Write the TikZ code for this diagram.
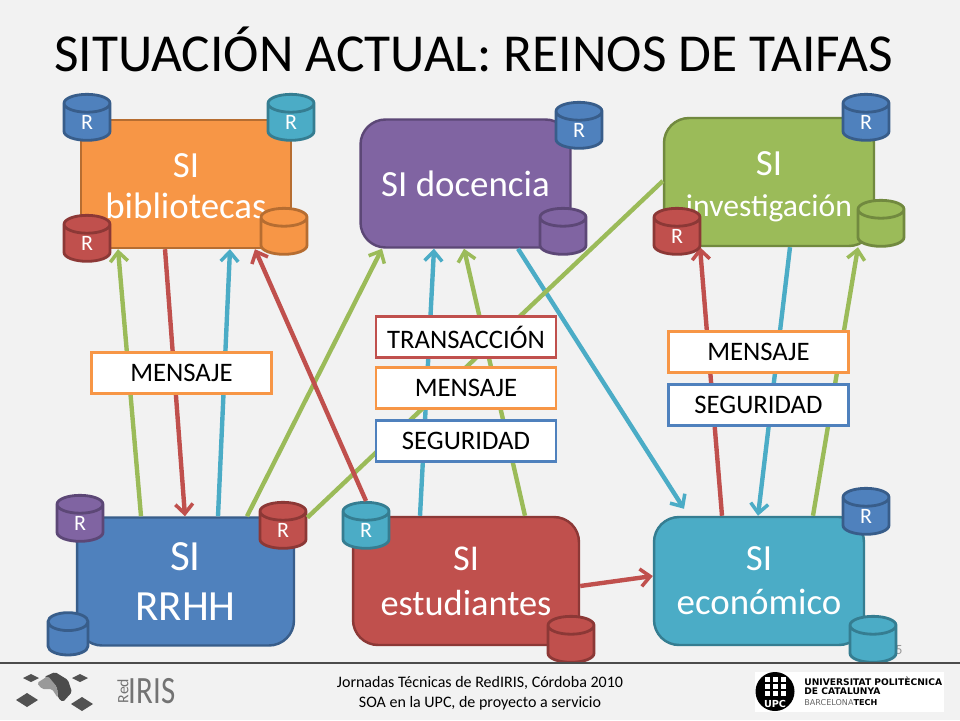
\documentclass[tikz,border=0pt]{standalone}
\usepackage{fontspec}
\setmainfont{Carlito}
\newfontfamily\logofont{DejaVu Sans}
\usetikzlibrary{arrows.meta,shapes.geometric}

\definecolor{pageBg}{HTML}{F2F2F2}
\definecolor{blueFill}{HTML}{4F81BD}
\definecolor{blueLine}{HTML}{385D8A}
\definecolor{redFill}{HTML}{C0504D}
\definecolor{redLine}{HTML}{8C3836}
\definecolor{greenFill}{HTML}{9BBB59}
\definecolor{greenLine}{HTML}{71893F}
\definecolor{purpleFill}{HTML}{8064A2}
\definecolor{purpleLine}{HTML}{5C4776}
\definecolor{tealFill}{HTML}{4BACC6}
\definecolor{tealLine}{HTML}{357D91}
\definecolor{orangeFill}{HTML}{F79646}
\definecolor{orangeLine}{HTML}{B66D31}

\tikzset{
  paint/.style={fill=#1Fill,draw=#1Line},
  sibox/.style={paint=#1,line width=1.4pt,rounded corners=0.5cm,minimum width=4.2cm,minimum height=2.56cm,
    text=white,align=center,inner sep=0pt,font=\fontsize{21}{23}\selectfont},
  rdb/.style={paint=#1,shape=cylinder,shape border rotate=90,aspect=1.5,line width=1.6pt,
    minimum width=0.92cm,minimum height=0.92cm,inner sep=0pt,text=white,font=\fontsize{12.5}{14}\selectfont},
  flow/.style={draw=#1Fill,line width=2.5pt,-{Straight Barb[length=5.5pt,width=10pt,line width=2pt]}},
  tag/.style={draw=#1Fill,fill=white,line width=1.4pt,minimum width=3.6cm,minimum height=0.82cm,inner sep=0pt,
    font=\fontsize{15.2}{17}\selectfont},
}

\begin{document}
\begin{tikzpicture}[x=0.02cm,y=-0.02cm]

\useasboundingbox[fill=pageBg] (0,0) rectangle (960,720);

\node (title) at (473.5,49) {\fontsize{30.4}{32}\selectfont SITUACIÓN ACTUAL: REINOS DE TAIFAS};
\node[text=black!40,font=\fontsize{8}{9}\selectfont] (num) at (899,650) {5};

% systems
\node[sibox=orange,sharp corners] (bib) at (186,184) {\rule{0pt}{16pt}SI\\bibliotecas};
\node[sibox=purple] (doc) at (465.5,183.5) {SI docencia};
\node[sibox=green,font=\fontsize{18}{23}\selectfont] (inv) at (769,182) {\rule{0pt}{19pt}{\fontsize{21}{23}\selectfont SI}\\investigación};
\node[sibox=blue,minimum width=4.34cm,font=\fontsize{24.5}{28.5}\selectfont] (rrhh) at (185.5,581.5) {SI\\RRHH};
\node[sibox=red,minimum width=4.52cm,font=\fontsize{20.7}{25.5}\selectfont] (est) at (466,581) {SI\\estudiantes};
\node[sibox=teal,font=\fontsize{21}{25}\selectfont] (eco) at (759,581) {SI\\económico};

% messages
\draw[flow=green] ([xshift=-0.89cm]rrhh.north) -- ([xshift=-1.36cm]bib.south);
\draw[flow=red]   ([xshift=-0.42cm]bib.south) -- ([xshift=-0.01cm]rrhh.north);
\draw[flow=teal]  ([xshift=0.65cm]rrhh.north) -- ([xshift=0.88cm]bib.south);
\draw[flow=green] ([xshift=1.23cm]rrhh.north) -- ([xshift=-1.67cm]doc.south);
\draw[flow=teal]  ([xshift=-0.92cm]est.north) -- ([xshift=-0.63cm]doc.south);
\draw[flow=green] ([xshift=1.18cm]est.north) -- ([xshift=-0.03cm]doc.south);
\draw[flow=teal]  ([xshift=1.05cm]doc.south) -- ([xshift=-1.5cm,yshift=0.14cm]eco.north);
\draw[flow=red]   ([yshift=-0.1cm]est.east) -- ([yshift=0.1cm]eco.west);
\draw[flow=red]   ([xshift=-0.74cm]eco.north) -- ([xshift=-1.38cm]inv.south);
\draw[flow=teal]  ([xshift=0.42cm]inv.south) -- ([xshift=-0.02cm]eco.north);
\draw[flow=green] ([xshift=1.08cm]eco.north) -- ([xshift=1.78cm]inv.south);

% repositories
\node[rdb=blue] (bibR1) at (87,122.5) {R};
\node[rdb=teal] (bibR2) at (291,122.5) {R};
\node[rdb=red] (bibR3) at (87,243.5) {R};
\node[rdb=orange] (bibD) at (284,236.5) {\phantom{R}};
\node[rdb=blue] (docR) at (579,130.5) {R};
\node[rdb=purple] (docD) at (563,236.5) {\phantom{R}};
\node[rdb=blue] (invR1) at (866,122.5) {R};
\node[rdb=red] (invR2) at (677,236.5) {R};
\node[rdb=green] (invD) at (881,228.5) {\phantom{R}};
\node[rdb=purple] (rrhhR1) at (80,523.5) {R};
\node[rdb=red] (rrhhR2) at (283,530.5) {R};
\node[rdb=blue,minimum width=0.8cm,minimum height=0.76cm] (rrhhD) at (68,639) {\phantom{R}};
\node[rdb=teal] (estR) at (366,530.5) {R};
\node[rdb=red] (estD) at (571,644.5) {\phantom{R}};
\node[rdb=blue] (ecoR) at (866,516.5) {R};
\node[rdb=teal] (ecoD) at (873,644.5) {\phantom{R}};

\draw[draw=greenFill,line width=2.5pt] ([yshift=0.26cm]rrhhR2.east) -- ([yshift=0.02cm]inv.west);
\draw[flow=red]   (estR.north) -- ([xshift=1.38cm]bib.south);

% labels
\node[tag=orange] (msgA) at (181.5,373) {MENSAJE};
\node[tag=red] (txB) at (466,337) {TRANSACCIÓN};
\node[tag=orange] (msgB) at (466,388) {MENSAJE};
\node[tag=blue] (secB) at (466,441) {SEGURIDAD};
\node[tag=orange] (msgC) at (758.5,352) {MENSAJE};
\node[tag=blue] (secC) at (758.5,405) {SEGURIDAD};

% footer
\draw[black!70,line width=1.1pt] (0,663) -- (960,663);
\node[font=\fontsize{9.1}{11.4}\selectfont,align=center] (foot) at (480,693) {Jornadas Técnicas de RedIRIS, Córdoba 2010\\SOA en la UPC, de proyecto a servicio};

% RedIRIS logo
\foreach \px/\py/\hw/\hh in {31/678/8/4,80/678/8/4,27/700/11/7,82/704/11/7}
  \fill[black!68] (\px-\hw,\py) -- (\px,\py-\hh) -- (\px+\hw,\py) -- (\px,\py+\hh) -- cycle;
\fill[black!70,rounded corners=1pt] (44,677) -- (55,672) -- (68,680) -- (72,692) -- (63,702) -- (58,698) -- (57,687) -- (50,680) -- cycle;
\fill[black!40,rounded corners=1pt] (37,683) -- (48,676) -- (57,687) -- (58,698) -- (52,689) -- (42,689) -- cycle;
\node[rotate=90,text=black!55,font=\fontsize{9}{10}\selectfont] (logoRed) at (123,691) {Red};
\node[text=black!55,xscale=0.8,font=\fontsize{22}{22}\selectfont] (logoIris) at (152,691) {IRIS};

% UPC logo
\fill[white] (755,672) rectangle (944,712);
\node[circle,fill=black,minimum size=0.78cm,inner sep=0pt] (upc) at (775,691.5) {};
\foreach \px in {-1,0,1}
  \foreach \py in {-1,0,1}
    \fill[white] (775+8*\px-2.5,686+7*\py-2.5) rectangle ++(5,5);
\node[text=white,font=\fontsize{5.5}{6}\bfseries\logofont] (upcName) at (775,703.5) {UPC};
\node[anchor=west,inner sep=0pt,font=\fontsize{5.2}{6}\bfseries\logofont] (uniA) at (804,681) {UNIVERSITAT POLITÈCNICA};
\node[anchor=west,inner sep=0pt,font=\fontsize{5.2}{6}\bfseries\logofont] (uniB) at (804,691.5) {DE CATALUNYA};
\node[anchor=west,inner sep=0pt,font=\fontsize{4.6}{5}\logofont] (uniC) at (804,703) {\textcolor{black!60}{BARCELONA}\textbf{TECH}};

\end{tikzpicture}
\end{document}
